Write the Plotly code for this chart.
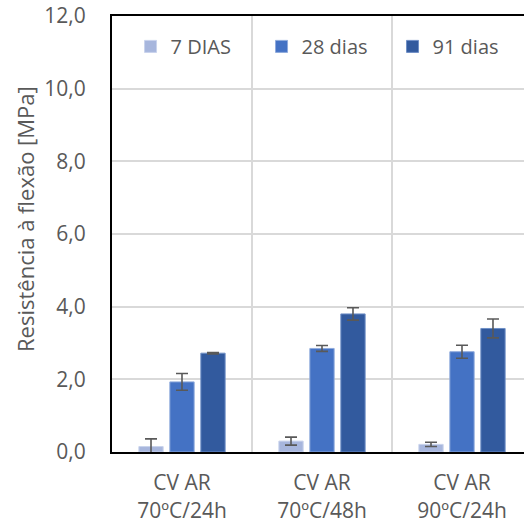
import plotly.graph_objects as go

# Categories and series values (flexural strength, MPa)
categories = ["CV AR<br>70ºC/24h", "CV AR<br>70ºC/48h", "CV AR<br>90ºC/24h"]
series_names = ["7 DIAS", "28 dias", "91 dias"]
vals_7 = [0.15, 0.30, 0.21]
err_7 = [0.21, 0.11, 0.06]
vals_28 = [1.93, 2.85, 2.76]
err_28 = [0.23, 0.08, 0.18]
vals_91 = [2.72, 3.80, 3.40]
err_91 = [0.02, 0.17, 0.26]
y_ticks = [0, 2, 4, 6, 8, 10, 12]
y_tick_text = ["0,0", "2,0", "4,0", "6,0", "8,0", "10,0", "12,0"]
y_title = "Resistência à flexão [MPa]"

colors = ["#A7B6DD", "#4472C4", "#325A9E"]
edge = ["#C9D3EC", "#8FAADC", "#6F8FC6"]
font_family = "Open Sans"
text_color = "#595959"

fig = go.Figure()
for name, vals, errs, c, e in zip(series_names, [vals_7, vals_28, vals_91],
                                  [err_7, err_28, err_91], colors, edge):
    fig.add_trace(go.Bar(
        x=categories, y=vals, name=name,
        marker=dict(color=c, line=dict(color=e, width=1)),
        error_y=dict(type="data", array=errs, visible=True,
                     color="#595959", thickness=1.6, width=6),
    ))

W = H = 524
left, top, bottom = 112, 16, 72
plot_w = W - left
plot_h = H - top - bottom

# vertical axis title placed as a rotated annotation
fig.add_annotation(
    text=y_title, textangle=-90, showarrow=False,
    xref="paper", yref="paper",
    x=(25 - left) / plot_w, y=(H - bottom - 219) / plot_h,
    xanchor="center", yanchor="middle",
    font=dict(size=22, color=text_color),
)

fig.update_layout(
    width=W, height=H,
    margin=dict(l=left, r=0, t=top, b=bottom, pad=0),
    paper_bgcolor="white", plot_bgcolor="white",
    barmode="group", bargap=0.336, bargroupgap=0.216,
    font=dict(family=font_family, size=21, color=text_color),
    showlegend=True,
    legend=dict(orientation="h", x=0.045, y=0.975, xanchor="left", yanchor="top",
                font=dict(size=20, color=text_color),
                bgcolor="rgba(0,0,0,0)", entrywidth=86, itemclick=False),
    xaxis=dict(
        range=[-0.5, -0.5 + plot_w / 140.0],
        tickson="boundaries", ticks="", showgrid=True,
        gridcolor="#D9D9D9", gridwidth=1.5,
        showline=True, linecolor="#000000", linewidth=2, mirror=True,
        tickfont=dict(size=21, color=text_color),
        ticklabelstandoff=11, automargin=False,
        fixedrange=True,
    ),
    yaxis=dict(
        range=[0, 12], tickvals=y_ticks, ticktext=y_tick_text,
        showgrid=True, gridcolor="#D9D9D9", gridwidth=1.5,
        showline=True, linecolor="#000000", linewidth=2, mirror=False,
        ticks="", ticklabelstandoff=20, automargin=False,
        tickfont=dict(size=21, color=text_color),
        zeroline=False, fixedrange=True,
    ),
)

fig.write_html("out.html")
